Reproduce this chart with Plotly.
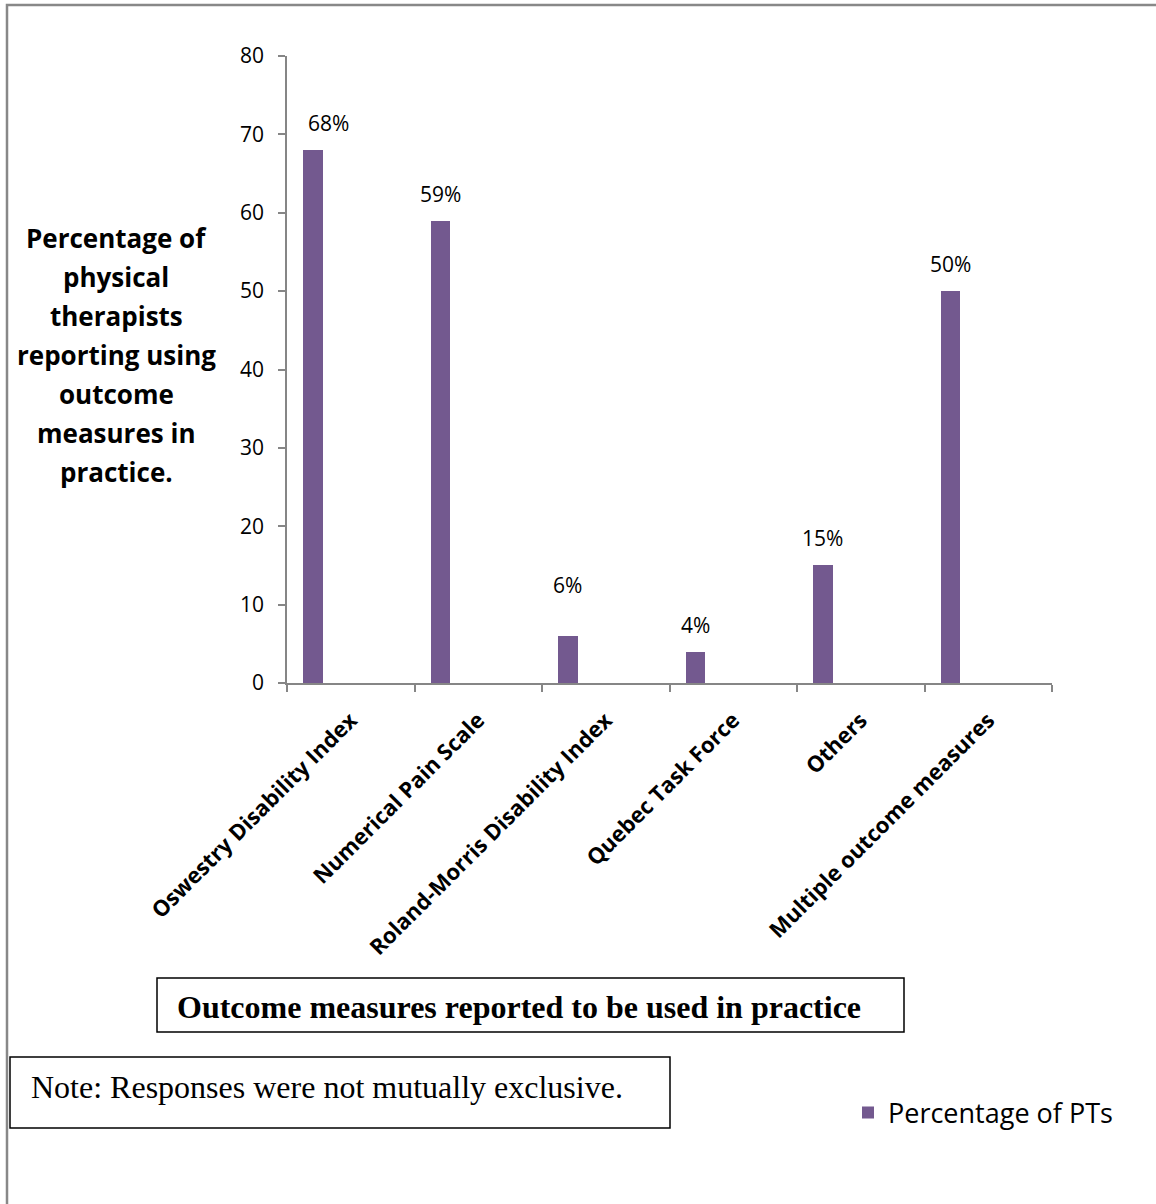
import plotly.graph_objects as go

# Survey results: outcome measures physical therapists report using
categories = [
    "Oswestry Disability Index",
    "Numerical Pain Scale",
    "Roland-Morris Disability Index",
    "Quebec Task Force",
    "Others",
    "Multiple outcome measures",
]
pct_of_pts = [68, 59, 6, 4, 15, 50]
series_name = "Percentage of PTs"
y_ticks = [0, 10, 20, 30, 40, 50, 60, 70, 80]
y_title_lines = [
    "Percentage of",
    "physical",
    "therapists",
    "reporting using",
    "outcome",
    "measures in",
    "practice.",
]
x_title = "Outcome measures reported to be used in practice"
note_text = "Note: Responses were not mutually exclusive."

W, H = 1156, 1204
L, R, T, B = 287, 1052, 56, 683  # plot area in pixels

def px(xp):
    return (xp - L) / (R - L)

def py(yp):
    return (B - yp) / (B - T)

BAR_COLOR = "#73598F"
AXIS_GRAY = "#868686"
SANS = "'Open Sans', sans-serif"
SERIF = "'Liberation Serif', 'Times New Roman', serif"

BAR_W = 0.153
BAR_OFF = -0.373

# hand-placed nudges for the value labels (pixels)
label_dx = [16, 0, 0, 0, 0, 0]
label_dy = [0, 0, 24, 0, 0, 0]

fig = go.Figure()
fig.add_trace(go.Bar(
    x=categories,
    y=pct_of_pts,
    name=series_name,
    marker=dict(color=BAR_COLOR, line=dict(width=0)),
    width=BAR_W,
    offset=BAR_OFF,
    showlegend=True,
))

annotations = []
# value labels above the bars
for i, v in enumerate(pct_of_pts):
    annotations.append(dict(
        x=i + BAR_OFF + BAR_W / 2, y=v, xref="x", yref="y",
        text=f"{v}%", showarrow=False, yanchor="bottom",
        yshift=11 + label_dy[i], xshift=label_dx[i],
        font=dict(family=SANS, size=21, color="black"),
    ))

# multi-line y axis title
line_y0, line_step = 238, 39
for k, line in enumerate(y_title_lines):
    annotations.append(dict(
        x=px(116), y=py(line_y0 + k * line_step), xref="paper", yref="paper",
        text=f"<b>{line}</b>", showarrow=False, xanchor="center", yanchor="middle",
        font=dict(family=SANS, size=26, color="black"),
    ))

# boxed x axis title
annotations.append(dict(
    x=px(519), y=py(1007), xref="paper", yref="paper",
    text=f"<b>{x_title}</b>", showarrow=False, xanchor="center", yanchor="middle",
    font=dict(family=SERIF, size=32, color="black"),
))
# note
annotations.append(dict(
    x=px(29), y=py(1087), xref="paper", yref="paper",
    text=note_text, showarrow=False, xanchor="left", yanchor="middle",
    font=dict(family=SERIF, size=32, color="black"),
))

shapes = [
    # outer frame (top and left edges visible)
    dict(type="rect", xref="paper", yref="paper",
         x0=px(7), x1=px(W + 40), y0=py(H + 40), y1=py(5),
         line=dict(color="#888888", width=2.5), fillcolor="rgba(0,0,0,0)", layer="below"),
    dict(type="rect", xref="paper", yref="paper",
         x0=px(157), x1=px(904), y0=py(1032), y1=py(978),
         line=dict(color="black", width=1.5), fillcolor="rgba(0,0,0,0)"),
    dict(type="rect", xref="paper", yref="paper",
         x0=px(10), x1=px(670), y0=py(1128), y1=py(1057),
         line=dict(color="black", width=1.5), fillcolor="rgba(0,0,0,0)"),
]

fig.update_layout(
    width=W, height=H,
    margin=dict(l=L, r=W - R, t=T, b=H - B, pad=0),
    paper_bgcolor="white", plot_bgcolor="white",
    annotations=annotations, shapes=shapes,
    bargap=0,
    legend=dict(
        x=px(848), y=py(1113), xanchor="left", yanchor="middle",
        font=dict(family=SANS, size=27, color="black"),
        bgcolor="rgba(0,0,0,0)", itemwidth=30,
    ),
    xaxis=dict(
        type="category", categoryorder="array", categoryarray=categories,
        tickvals=categories, ticktext=[f"<b>{c}</b>" for c in categories],
        showline=True, linecolor=AXIS_GRAY, linewidth=1.5,
        ticks="outside", tickson="boundaries", ticklen=7, tickcolor=AXIS_GRAY, tickwidth=1.5,
        tickangle=-45, showgrid=False, ticklabelstandoff=14,
        tickfont=dict(family=SANS, size=22, color="black"),
        range=[-0.5, 5.5],
    ),
    yaxis=dict(
        range=[0, 80], tickvals=y_ticks, showline=True, linecolor=AXIS_GRAY, linewidth=1.5,
        ticks="outside", ticklen=7, tickcolor=AXIS_GRAY, tickwidth=1.5,
        showgrid=False, zeroline=False, ticklabelstandoff=10,
        tickfont=dict(family=SANS, size=21, color="black"),
    ),
)

fig.write_html("out.html")
